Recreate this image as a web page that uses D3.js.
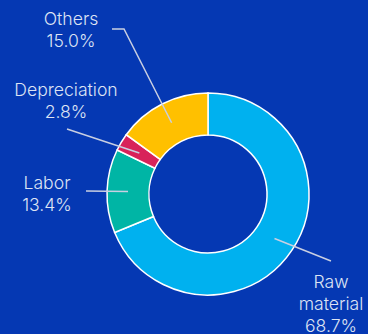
<!DOCTYPE html>
<html>
<head>
<meta charset="utf-8">
<script src="https://cdn.jsdelivr.net/npm/d3@7"></script>
<style>
  html, body { margin: 0; padding: 0; background: #0538b3; }
  svg { display: block; }
  .lbl { font-family: Inter, "Noto Sans", sans-serif; font-size: 17.6px; font-weight: 300; fill: #dde3f3; }
</style>
</head>
<body>
<div class="chart"></div>
<script>
// data
const categories = ['Raw material', 'Labor', 'Depreciation', 'Others'];
const shares = [68.7, 13.4, 2.8, 15.0];
const labelLines = [['Raw', 'material', '68.7%'], ['Labor', '13.4%'], ['Depreciation', '2.8%'], ['Others', '15.0%']];
const colours = ['#00b1ef', '#00b5a5', '#d8225a', '#ffc000'];

// dimensions
const width = 368;
const height = 334;
const cx = 208;
const cy = 194;
const outerR = 101;
const innerR = 59;
const lineHeight = 21.8;

// label placement: leader end point and text anchor
const labelLayout = [
  { end: [331, 261], knee: null, tx: 331, ty: 288 },
  { end: [86, 191], knee: null, tx: 47, ty: 189 },
  { end: [67, 129], knee: null, tx: 66, ty: 96 },
  { end: [112, 29], knee: [124, 29], tx: 71, ty: 25 }
];

const svg = d3.select('.chart')
  .append('svg')
  .attr('width', width)
  .attr('height', height);

svg.append('rect')
  .attr('width', width)
  .attr('height', height)
  .attr('fill', '#0538b3');

const pie = d3.pie()
  .sort(null)
  .value(d => d);

const arcs = pie(shares);

const arc = d3.arc()
  .innerRadius(innerR)
  .outerRadius(outerR);

const midArc = d3.arc()
  .innerRadius((innerR + outerR) / 2)
  .outerRadius((innerR + outerR) / 2);

const g = svg.append('g')
  .attr('transform', `translate(${cx},${cy})`);

g.selectAll('path')
  .data(arcs)
  .enter()
  .append('path')
  .attr('d', arc)
  .attr('fill', (d, i) => colours[i])
  .attr('stroke', '#ffffff')
  .attr('stroke-width', 1.5);

// leader lines
svg.selectAll('polyline')
  .data(arcs)
  .enter()
  .append('polyline')
  .attr('points', (d, i) => {
    const c = midArc.centroid(d);
    const pts = [[c[0] + cx, c[1] + cy]];
    const lay = labelLayout[i];
    if (lay.knee) pts.push(lay.knee);
    pts.push(lay.end);
    return pts.map(p => p.join(',')).join(' ');
  })
  .attr('fill', 'none')
  .attr('stroke', '#c9cfe2')
  .attr('stroke-width', 1.5);

// labels
const labels = svg.selectAll('text.lbl')
  .data(categories)
  .enter()
  .append('text')
  .attr('class', 'lbl')
  .attr('text-anchor', 'middle')
  .attr('y', (d, i) => labelLayout[i].ty);

labels.selectAll('tspan')
  .data((d, i) => labelLines[i].map(t => ({ t, i })))
  .enter()
  .append('tspan')
  .attr('x', d => labelLayout[d.i].tx)
  .attr('dy', (d, j) => j === 0 ? 0 : lineHeight)
  .text(d => d.t);
</script>
</body>
</html>
